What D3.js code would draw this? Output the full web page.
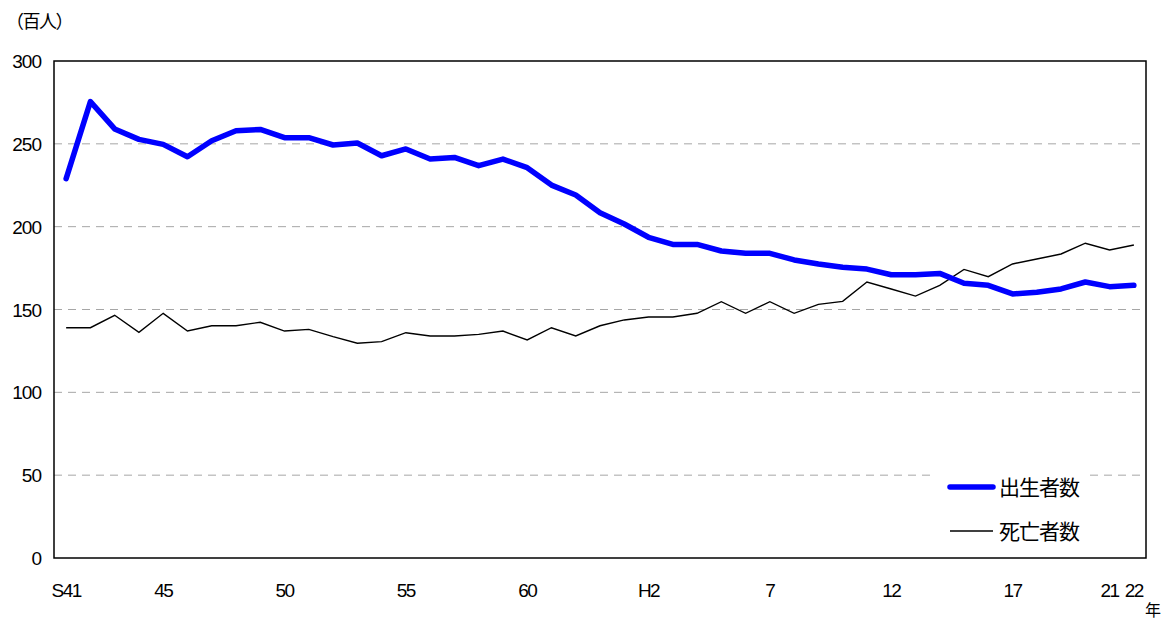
<!DOCTYPE html>
<meta charset="utf-8">
<style>
body { margin: 0; background: #fff; }
text { font-family: "Liberation Sans", Arial, sans-serif; fill: #000; }
.jp { font-family: "Noto Sans CJK JP", sans-serif; }
.grid line { stroke: #a6a6a6; stroke-width: 1px; stroke-dasharray: 8 6; }
.frame { fill: none; stroke: #000; stroke-width: 1.5px; }
.births { fill: none; stroke: #0000ff; stroke-width: 5.5px; stroke-linejoin: round; stroke-linecap: round; }
.deaths { fill: none; stroke: #000; stroke-width: 1.4px; stroke-linejoin: miter; }
</style>
<svg width="1166" height="622"></svg>
<script src="https://d3js.org/d3.v7.min.js"></script>
<script>

var years = ["S41","S42","S43","S44","S45","S46","S47","S48","S49","S50",
  "S51","S52","S53","S54","S55","S56","S57","S58","S59","S60",
  "S61","S62","S63","H1","H2","H3","H4","H5","H6","H7",
  "H8","H9","H10","H11","H12","H13","H14","H15","H16","H17",
  "H18","H19","H20","H21","H22"];

// 出生者数 (百人)
var births = [229, 275.5, 259, 252.7, 249.7, 242.2, 251.9, 257.9, 258.7, 253.7,
  253.7, 249.3, 250.5, 242.8, 246.9, 240.8, 241.8, 236.8, 240.8, 235.6,
  225.1, 219.1, 208.4, 201.6, 193.6, 189.3, 189.3, 185.3, 183.9, 183.9,
  179.9, 177.5, 175.5, 174.4, 171, 171, 171.8, 165.8, 164.6, 159.4,
  160.4, 162.4, 166.6, 163.8, 164.6];

// 死亡者数 (百人)
var deaths = [139, 139, 146.5, 136.2, 147.7, 137, 140.2, 140.2, 142.3, 137,
  138, 133.6, 129.6, 130.6, 136, 134, 134, 135, 137, 131.6,
  139, 134, 140.2, 143.7, 145.5, 145.5, 147.7, 154.7, 147.7, 154.7,
  147.7, 153.1, 154.9, 166.6, 162.4, 158.1, 164.6, 174.2, 169.8, 177.5,
  180.5, 183.5, 190, 185.9, 188.9];

var xTicks = ["S41","S45","S50","S55","S60","H2","H7","H12","H17","H21","H22"];
var xTickLabels = ["S41","45","50","55","60","H2","7","12","17","21","22"];
var yTicks = [0, 50, 100, 150, 200, 250, 300];

var svg = d3.select("svg");
var m = { left: 54, right: 1146, top: 61, bottom: 558 };

var x = d3.scalePoint().domain(years).range([m.left, m.right]).padding(0.5);
var y = d3.scaleLinear().domain([0, 300]).range([m.bottom, m.top]);

// gridlines
svg.append("g").attr("class", "grid")
  .selectAll("line")
  .data(yTicks.filter(function(d) { return d > 0 && d < 300; }))
  .enter().append("line")
    .attr("x1", m.left).attr("x2", m.right)
    .attr("y1", function(d) { return y(d); })
    .attr("y2", function(d) { return y(d); });

// y tick labels
svg.append("g").selectAll("text")
  .data(yTicks)
  .enter().append("text")
    .attr("x", 41)
    .attr("y", function(d) { return y(d) + 7; })
    .attr("text-anchor", "end")
    .style("font-size", "19px")
    .style("letter-spacing", "-1px")
    .text(function(d) { return d; });

// x tick labels
svg.append("g").selectAll("text")
  .data(xTicks)
  .enter().append("text")
    .attr("x", function(d) { return x(d); })
    .attr("y", 597)
    .attr("text-anchor", "middle")
    .style("font-size", "19px")
    .style("letter-spacing", "-1.5px")
    .text(function(d, i) { return xTickLabels[i]; });

svg.append("text").attr("class", "jp")
  .attr("x", 1153).attr("y", 616)
  .attr("text-anchor", "middle")
  .style("font-size", "16px")
  .text("年");

svg.append("text").attr("class", "jp")
  .attr("x", 6).attr("y", 28)
  .style("font-size", "18px")
  .style("letter-spacing", "-1.5px")
  .text("（百人）");

var line = d3.line()
  .x(function(d, i) { return x(years[i]); })
  .y(function(d) { return y(d); });

// legend background (covers gridline)
svg.append("rect")
  .attr("x", 932).attr("y", 466)
  .attr("width", 156).attr("height", 84)
  .attr("fill", "#fff");

svg.append("path").datum(deaths).attr("class", "deaths").attr("d", line);
svg.append("path").datum(births).attr("class", "births").attr("d", line);

svg.append("rect").attr("class", "frame")
  .attr("x", m.left).attr("y", m.top)
  .attr("width", m.right - m.left).attr("height", m.bottom - m.top);

// legend
var legend = [
  { label: "出生者数", cls: "births", y: 487 },
  { label: "死亡者数", cls: "deaths", y: 531 }
];
var lg = svg.append("g").selectAll("g").data(legend).enter().append("g");
lg.append("path")
  .attr("class", function(d) { return d.cls; })
  .attr("d", function(d) { return "M950," + d.y + "H993"; });
lg.append("text").attr("class", "jp")
  .attr("x", 999)
  .attr("y", function(d) { return d.y + 8; })
  .style("font-size", "21px")
  .style("letter-spacing", "-1px")
  .text(function(d) { return d.label; });

</script>
